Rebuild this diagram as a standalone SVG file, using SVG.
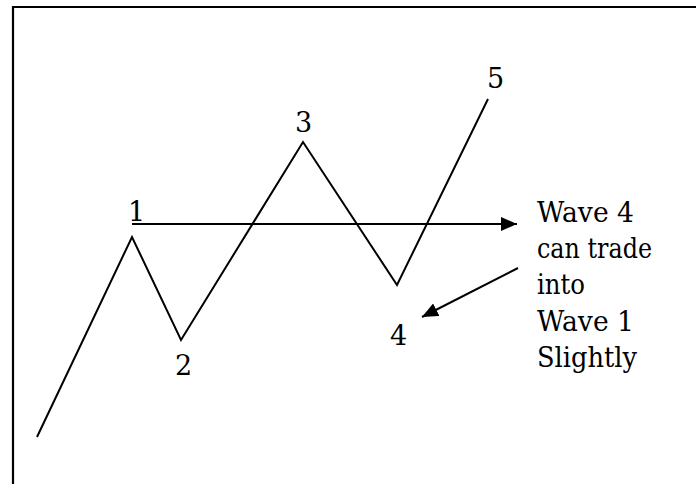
<svg xmlns="http://www.w3.org/2000/svg" width="696" height="484" viewBox="0 0 696 484">
<style>
.t{font-family:'DejaVu Serif','Liberation Serif',serif;font-size:28px;fill:#000}
.d{font-family:'DejaVu Serif','Liberation Serif',serif;font-size:27px;fill:#000}
.ln{fill:none;stroke:#000;stroke-width:2}
</style>
<defs>
<marker id="ah" viewBox="0 0 16 14" refX="16" refY="7" markerWidth="16" markerHeight="14" markerUnits="userSpaceOnUse" orient="auto">
<path d="M0,0 L16,7 L0,14 Z" fill="#000"/>
</marker>
</defs>
<rect x="0" y="0" width="696" height="484" fill="#fff"/>
<g id="frame"><path d="M13,484 L13,7 L696,7" fill="none" stroke="#000" stroke-width="2.2"/></g>
<g id="wave"><polyline class="ln" points="37,437 132,237 181,340 303,142 397,285 488,99"/></g>
<g id="labels">
<text class="d" x="128" y="221">1</text>
<text class="d" x="175" y="375">2</text>
<text class="d" x="295" y="132">3</text>
<text class="d" x="390" y="345">4</text>
<text class="d" x="487" y="88">5</text>
</g>
<g id="connectors">
<line class="ln" x1="132" y1="224" x2="517" y2="224" marker-end="url(#ah)"/>
<line class="ln" x1="518" y1="268" x2="422" y2="317" marker-end="url(#ah)"/>
</g>
<g id="note">
<text class="t" x="537" y="222" textLength="97" lengthAdjust="spacingAndGlyphs">Wave 4</text>
<text class="t" x="537" y="258" textLength="115" lengthAdjust="spacingAndGlyphs">can trade</text>
<text class="t" x="537" y="294" textLength="48" lengthAdjust="spacingAndGlyphs">into</text>
<text class="t" x="537" y="331" textLength="97" lengthAdjust="spacingAndGlyphs">Wave 1</text>
<text class="t" x="537" y="367" textLength="100" lengthAdjust="spacingAndGlyphs">Slightly</text>
</g>
</svg>
